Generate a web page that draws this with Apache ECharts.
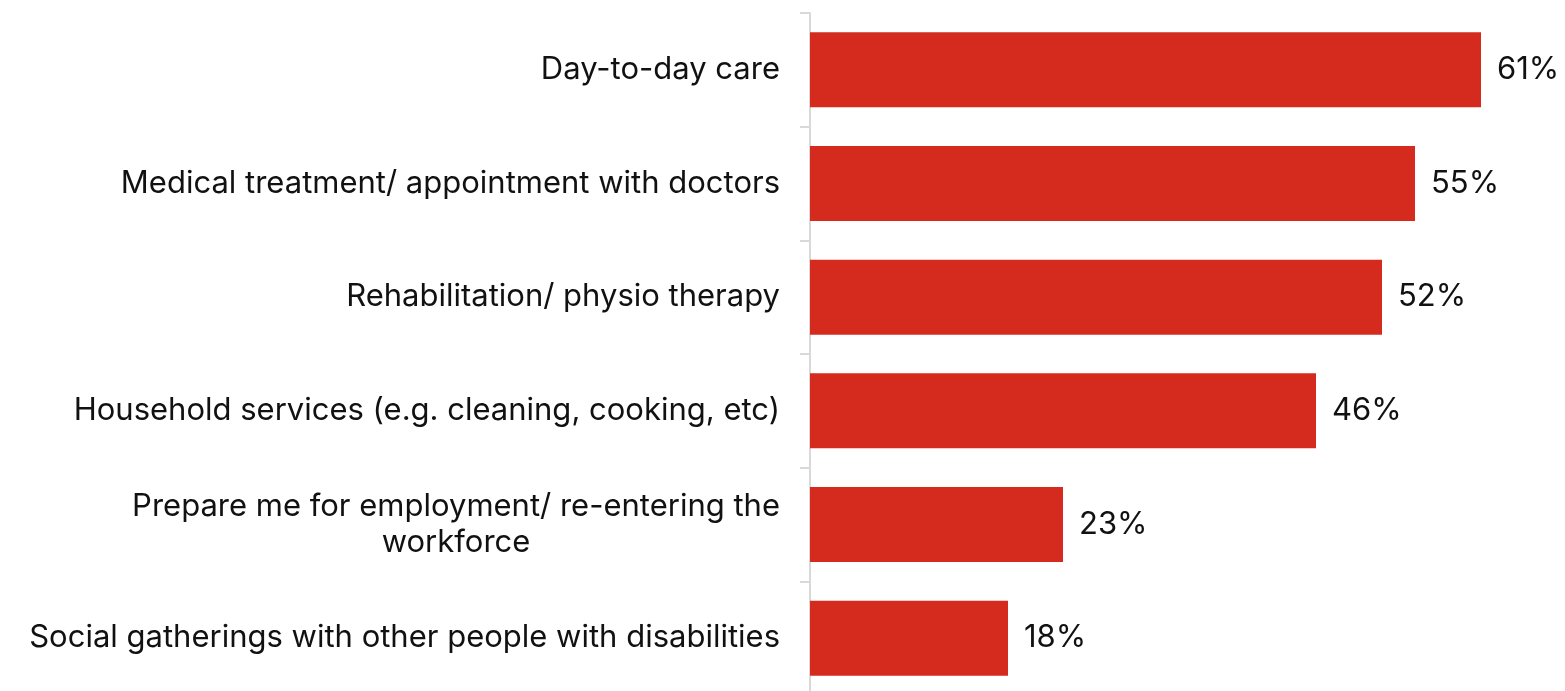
<!DOCTYPE html>
<html>
<head>
<meta charset="utf-8">
<script src="https://cdn.jsdelivr.net/npm/echarts@6/dist/echarts.min.js"></script>
<style>
  html, body { margin: 0; padding: 0; background: #ffffff; }
  #chart { width: 1565px; height: 691px; }
</style>
</head>
<body>
<div id="chart"></div>
<script>
// Support types, listed top to bottom
const categories = [
  'Day-to-day care',
  'Medical treatment/ appointment with doctors',
  'Rehabilitation/ physio therapy',
  'Household services (e.g. cleaning, cooking, etc)',
  'Prepare me for employment/ re-entering the\n{wrap|workforce}',
  'Social gatherings with other people with disabilities'
];
// Share of respondents (%)
const shares = [61, 55, 52, 46, 23, 18];

const chart = echarts.init(document.getElementById('chart'), null, { renderer: 'canvas' });

const FONT = 'Inter, "Liberation Sans", sans-serif';

chart.setOption({
  animation: false,
  grid: {
    left: 810, top: 13, width: 748, height: 682,
    containLabel: false, outerBoundsMode: 'none'
  },
  xAxis: {
    type: 'value',
    min: 0,
    max: 68,
    show: false
  },
  yAxis: {
    type: 'category',
    inverse: true,
    data: categories,
    axisLine: { show: true, lineStyle: { color: '#d9d9d9', width: 2 } },
    axisTick: { show: true, length: 10, lineStyle: { color: '#d9d9d9', width: 2 } },
    axisLabel: {
      margin: 30,
      color: '#111111',
      fontFamily: FONT,
      fontSize: 31,
      lineHeight: 36,
      align: 'right',
      rich: {
        // second line of the wrapped label is centred under the first
        wrap: {
          color: '#111111',
          fontFamily: FONT,
          fontSize: 31,
          lineHeight: 36,
          align: 'center'
        }
      }
    }
  },
  series: [{
    type: 'bar',
    data: shares,
    barWidth: 75,
    itemStyle: { color: '#D52B1F' },
    label: {
      show: true,
      position: 'right',
      distance: 16,
      formatter: '{c}%',
      color: '#111111',
      fontFamily: FONT,
      fontSize: 31
    }
  }]
});
</script>
</body>
</html>
